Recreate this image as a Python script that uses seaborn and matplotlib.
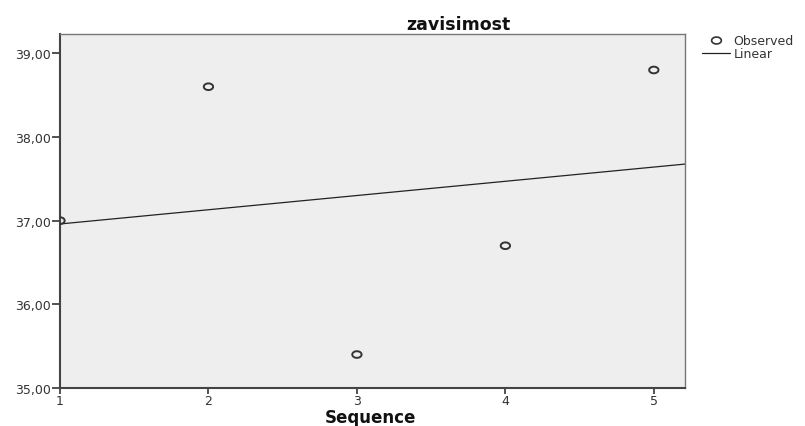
import matplotlib
matplotlib.use("Agg")
import matplotlib.pyplot as plt
import seaborn as sns
import pandas as pd
import numpy as np
from matplotlib.lines import Line2D
from matplotlib.path import Path

sequence = [1, 2, 3, 4, 5]
observed = [37.0, 38.6, 35.4, 36.7, 38.8]
x_ticks = [1, 2, 3, 4, 5]
x_ticklabels = ["1", "2", "3", "4", "5"]
y_ticks = [35, 36, 37, 38, 39]
y_ticklabels = ["35,00", "36,00", "37,00", "38,00", "39,00"]
title = "zavisimost"
xlabel = "Sequence"
legend_labels = ["Observed", "Linear"]

df = pd.DataFrame({"Sequence": sequence, "Observed": observed})

# wide ellipse marker (reference markers are stretched horizontally)
_t = np.linspace(0, 2 * np.pi, 41)
ellipse = Path(np.column_stack([1.4 * np.cos(_t), np.sin(_t)]), closed=True)

sns.set_theme(style="white")
plt.rcParams["font.family"] = ["DejaVu Sans"]

W, H = 805, 427
fig = plt.figure(figsize=(W / 100, H / 100), dpi=100)
ax = fig.add_axes([60 / W, (H - 389) / H, (685 - 60) / W, (389 - 35) / H])
ax.set_facecolor("#EEEEEE")

ax.set_xlim(1, 5.21)
ax.set_ylim(35, 39.23)

sns.regplot(data=df, x="Sequence", y="Observed", ax=ax, scatter=False,
            ci=None, truncate=False, line_kws=dict(color="#222222", lw=0.9))
sns.scatterplot(data=df, x="Sequence", y="Observed", ax=ax, marker=ellipse,
                s=45, facecolor="none", edgecolor="#333333", linewidth=1.4,
                zorder=3)

ax.set_xlim(1, 5.21)
ax.set_ylim(35, 39.23)

ax.set_xticks(x_ticks)
ax.set_xticklabels(x_ticklabels)
ax.set_yticks(y_ticks)
ax.set_yticklabels(y_ticklabels)
ax.tick_params(axis="both", direction="out", width=1.3,
               color="#444444", labelsize=9, labelcolor="#333333",
               left=True, bottom=True)
ax.tick_params(axis="x", length=4, pad=0.5)
ax.tick_params(axis="y", length=6, pad=0.5)

for s in ax.spines.values():
    s.set_color("#777777")
    s.set_linewidth(1.0)
ax.spines["left"].set_color("#444444")
ax.spines["left"].set_linewidth(1.5)
ax.spines["bottom"].set_color("#444444")
ax.spines["bottom"].set_linewidth(1.5)

ax.set_xlabel("")
ax.set_ylabel("")
fig.text(370 / W, 1 - 418 / H, xlabel, ha="center", va="center",
         fontsize=12, fontweight="bold", color="#111111")
fig.text(458 / W, 1 - 25 / H, title, ha="center", va="center",
         fontsize=12.5, fontweight="bold", color="#111111")

handles = [
    Line2D([], [], marker=ellipse, linestyle="none", markerfacecolor="none",
           markeredgecolor="#333333", markersize=7, markeredgewidth=1.2),
    Line2D([], [], color="#222222", lw=0.9),
]
leg = fig.legend(handles, legend_labels, loc="upper left",
                 bbox_to_anchor=(702 / W, 1 - 35 / H), frameon=False,
                 fontsize=9, handlelength=2.2, handletextpad=0.3,
                 labelspacing=0.0, borderpad=0, borderaxespad=0)
for t in leg.get_texts():
    t.set_color("#333333")

fig.savefig("out.png", dpi=100)
